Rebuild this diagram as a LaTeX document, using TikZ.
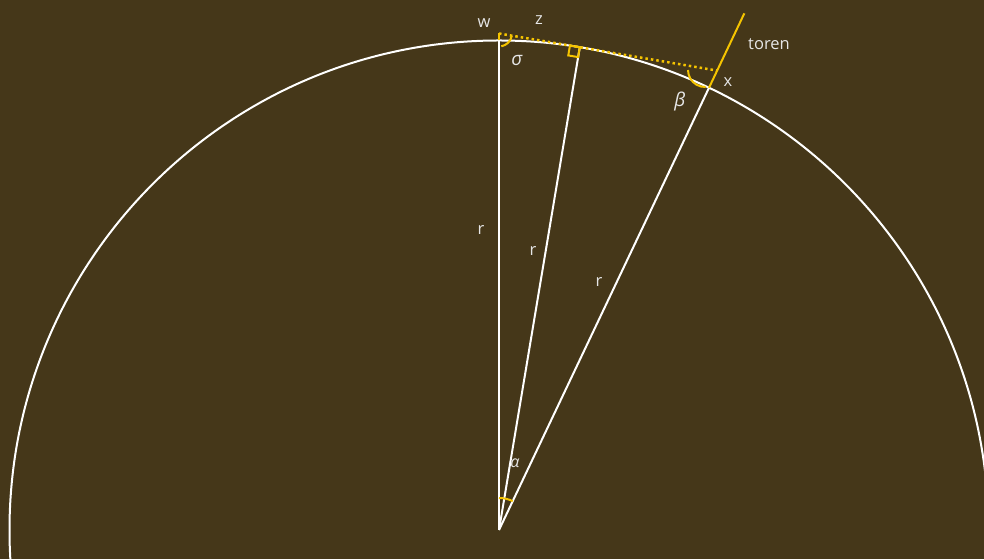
\documentclass[tikz,border=0pt]{standalone}
\usepackage{fontspec}
\setmainfont{Open Sans}
\usetikzlibrary{calc}
\definecolor{bg}{HTML}{453719}
\definecolor{gold}{HTML}{F5C400}
\definecolor{txt}{HTML}{E6E6E6}
\begin{document}
\begin{tikzpicture}[x=1pt,y=1pt,
  whiteline/.style={draw=white,line width=2pt},
  goldline/.style={draw=gold,line width=2pt},
  lbl/.style={text=txt,font=\fontsize{16.5}{19}\selectfont,inner sep=0pt},
  glbl/.style={text=txt,font=\fontsize{19}{22}\selectfont\itshape,inner sep=0pt}]
\fill[bg] (0,0) rectangle (984,559);
\useasboundingbox (0,0) rectangle (984,559);
\begin{scope}
\clip (0,0) rectangle (984,559);
\coordinate (O) at (499,29);
\draw[whiteline] (O) circle (489.5);
\coordinate (W) at ($(O)+(90:489.5)$);
\coordinate (Wp) at ($(O)+(0,496.5)$);
\coordinate (T) at ($(O)+(80.5:489.5)$);
\coordinate (X) at ($(O)+(64.6:489.5)$);
\coordinate (Ttop) at ($(O)+(64.6:572)$);
\coordinate (I) at ($(O)+(64.6:508.6)$);
% radii
\draw[whiteline] (O) -- (W);
\draw[whiteline] (O) -- (T);
\draw[whiteline] (O) -- (X);
% tower
\draw[goldline] (X) -- (Ttop);
% observer height
\draw[goldline] (W) -- (Wp);
% line of sight
\draw[draw=gold,line width=2.5pt,dash pattern=on 2.5pt off 3pt] (Wp) -- (I);
% right angle at tangent point
\draw[goldline] (T) -- ++(170.5:10) -- ++(260.5:10) -- ++(350.5:10) -- cycle;
% sigma arc
\draw[goldline] ($(Wp)+(-9.5:13)$) arc[start angle=-9.5,end angle=-80,radius=13];
% beta arc
\draw[goldline] (688,489) arc[start angle=180,end angle=272,radius=17];
% alpha arc
\draw[goldline] ($(O)+(90:32)$) arc[start angle=90,end angle=64.6,radius=32];
\end{scope}
% labels
\node[lbl] (lw) at (484,536) {w};
\node[lbl] (lz) at (539,539) {z};
\node[glbl] (ls) at (517,499) {σ};
\node[lbl] (lx) at (728,477) {x};
\node[glbl] (lb) at (680,457) {β};
\node[lbl,anchor=west] (lt) at (748,515) {toren};
\node[lbl] (r1) at (481,329) {r};
\node[lbl] (r2) at (533,308) {r};
\node[lbl] (r3) at (599,277) {r};
\node[glbl,font=\fontsize{16}{18}\selectfont\itshape] (la) at (515,96) {α};
\end{tikzpicture}
\end{document}
